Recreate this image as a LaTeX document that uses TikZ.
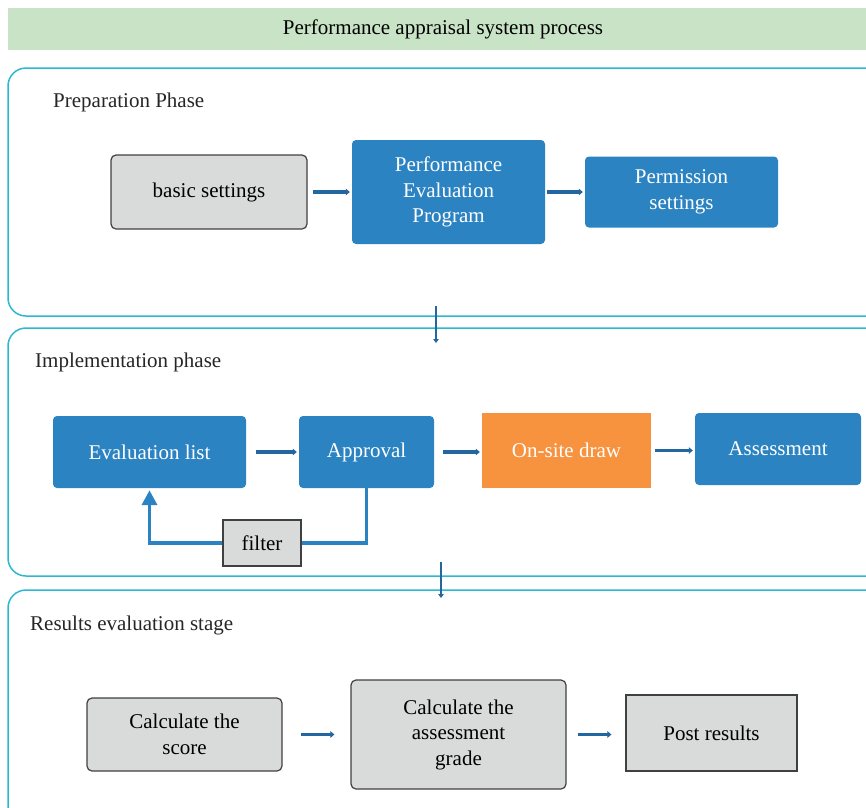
\documentclass[tikz,border=0pt]{standalone}
\usepackage{fontspec}
\setmainfont{Liberation Serif}
\usetikzlibrary{arrows.meta}
\definecolor{bandgreen}{HTML}{C8E3C5}
\definecolor{panelcyan}{HTML}{2DB8D2}
\definecolor{boxblue}{HTML}{2C83C2}
\definecolor{boxgray}{HTML}{D9DADA}
\definecolor{boxorange}{HTML}{F7923F}
\definecolor{arrowblue}{HTML}{2366A0}
\begin{document}
\begin{tikzpicture}[x=1pt,y=-1pt,font=\fontsize{21}{25.5}\selectfont,
  panel/.style={draw=panelcyan,line width=1.5pt,rounded corners=18pt},
  phase/.style={anchor=west,inner sep=0pt,text=black!85},
  bluebox/.style={fill=boxblue,text=white,rounded corners=4pt,align=center,inner sep=0pt},
  graybox/.style={fill=boxgray,draw=black!75,line width=1.2pt,rounded corners=5pt,align=center,inner sep=0pt},
  flow/.style={arrowblue,line width=3.4pt,-{Triangle[length=4pt,width=6.5pt]}},
  down/.style={arrowblue,line width=2.6pt,-{Triangle[length=4pt,width=5.5pt]}},
  loopline/.style={boxblue,line width=3.6pt}]
\useasboundingbox (0,0) rectangle (866,807);
\clip (0,0) rectangle (866,807);

% title band
\node[fill=bandgreen,minimum width=870,minimum height=42,inner sep=0pt] (title) at (443,29) {Performance appraisal system process};

% the three stages
\draw[panel] (8,68) rectangle (890,316);
\draw[panel] (8,328) rectangle (890,576);
\draw[panel] (8,590) rectangle (890,840);

\node[phase] (prephd) at (53,102) {Preparation Phase};
\node[phase] (implhd) at (35,362) {Implementation phase};
\node[phase] (reshd) at (30,625) {Results evaluation stage};

% preparation
\node[graybox,minimum width=196,minimum height=74] (basic) at (209,192) {basic settings};
\node[bluebox,minimum width=193,minimum height=104] (prog) at (448.5,192) {Performance\\Evaluation\\Program};
\node[bluebox,minimum width=193,minimum height=71] (perm) at (681.5,192) {Permission\\settings};
\draw[flow,shorten <=5pt,shorten >=2pt] (basic.east) -- (prog.west);
\draw[flow,shorten <=2pt,shorten >=2pt] (prog.east) -- (prog.east -| perm.west);

% implementation
\node[bluebox,minimum width=193,minimum height=72] (evl) at (149.5,452) {Evaluation list};
\node[bluebox,minimum width=135,minimum height=72] (appr) at (366.5,452) {Approval};
\node[fill=boxorange,text=white,minimum width=169,minimum height=75,inner sep=0pt] (onsite) at (566.5,450.5) {On-site draw};
\node[bluebox,minimum width=166,minimum height=72] (assess) at (778,449) {Assessment};
\node[graybox,rounded corners=0pt,minimum width=78,minimum height=46] (filter) at (262,543) {filter};
\draw[flow,shorten <=10pt,shorten >=2pt] (evl.east) -- (appr.west);
\draw[flow,shorten <=9pt,shorten >=2pt] (appr.east) -- (appr.east -| onsite.west);
\draw[flow,shorten <=4pt,shorten >=2pt] (onsite.east) -- (onsite.east -| assess.west);
\draw[loopline] (appr.south) |- (filter.east);
\draw[loopline,-{Triangle[length=15pt,width=15pt]}] (filter.west) -| ([yshift=-2pt]evl.south);

% results
\node[graybox,minimum width=195,minimum height=73] (score) at (184.5,734.5) {Calculate the\\score};
\node[graybox,minimum width=215,minimum height=109] (grade) at (458.5,734.5) {Calculate the\\assessment\\grade};
\node[graybox,rounded corners=0pt,minimum width=171,minimum height=76] (post) at (711.5,733) {Post results};
\draw[flow,shorten <=18pt,shorten >=16pt] (score.east) -- (grade.west);
\draw[flow,shorten <=11pt,shorten >=14pt] (grade.east) -- (grade.east -| post.west);

% stage links
\coordinate (prepout) at (436,306);
\coordinate (implin) at (436,343);
\coordinate (implout) at (441,562);
\coordinate (resin) at (441,598);
\draw[down] (prepout) -- (implin);
\draw[down] (implout) -- (resin);
\end{tikzpicture}
\end{document}
